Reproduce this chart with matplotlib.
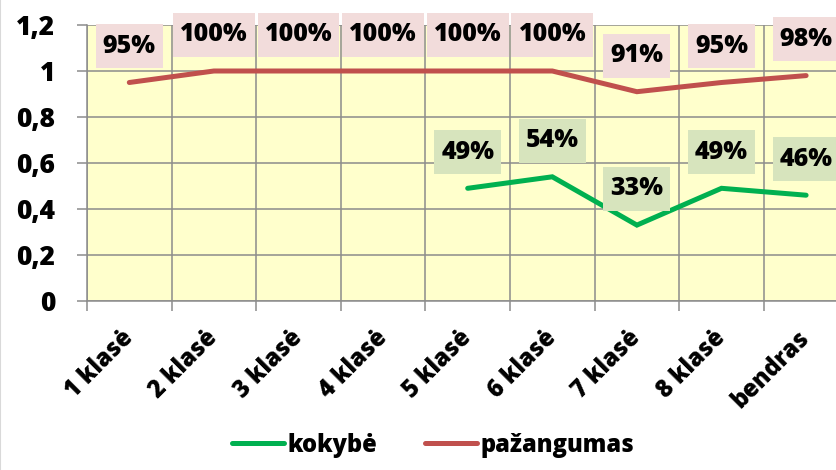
import numpy as np
import matplotlib
matplotlib.use("Agg")
import matplotlib.pyplot as plt
from matplotlib.lines import Line2D
from matplotlib.path import Path

categories = ["1 klasė", "2 klasė", "3 klasė", "4 klasė", "5 klasė",
              "6 klasė", "7 klasė", "8 klasė", "bendras"]
kokybe = [np.nan, np.nan, np.nan, np.nan, 0.49, 0.54, 0.33, 0.49, 0.46]
pazangumas = [0.95, 1.00, 1.00, 1.00, 1.00, 1.00, 0.91, 0.95, 0.98]
yticks = [0, 0.2, 0.4, 0.6, 0.8, 1.0, 1.2]
ytick_labels = ["0", "0,2", "0,4", "0,6", "0,8", "1", "1,2"]
series_names = ["kokybė", "pažangumas"]

GREEN = "#00B050"
RED = "#C0504D"
GREEN_BOX = "#D7E4BD"
RED_BOX = "#F2DCDB"
GRID = "#8C8C8C"
FONT = "Open Sans"
WEIGHT = 800

plt.rcParams['font.family'] = [FONT, 'DejaVu Sans']
plt.rcParams['font.weight'] = WEIGHT

W, H = 837, 470
fig = plt.figure(figsize=(W / 100, H / 100), dpi=100)
fig.patch.set_facecolor("white")

left, top, bottom = 87, 25, 301
cw = 84.6
ax = fig.add_axes([left / W, (H - bottom) / H, cw * 9 / W, (bottom - top) / H])
ax.set_facecolor("#FFFFCC")

x = np.arange(len(categories))
ax.plot(x, kokybe, color=GREEN, lw=3.6, solid_capstyle="round", solid_joinstyle="miter", zorder=3)
ax.plot(x, pazangumas, color=RED, lw=3.6, solid_capstyle="round", solid_joinstyle="miter", zorder=3)

ax.set_xlim(-0.5, len(categories) - 0.5)
ax.set_ylim(0, 1.2)


def label_box(x0, y0, width, height, mutation_size):
    # box around text: fixed padding in pixels, horizontally and vertically
    px, py = 7, 22
    cy = y0 + height / 2
    xa, xb = x0 - px, x0 + width + px
    ya, yb = cy - py, cy + py
    return Path([(xa, ya), (xb, ya), (xb, yb), (xa, yb), (xa, ya)], closed=True)


def add_labels(vals, box):
    for xi, v in zip(x, vals):
        if np.isnan(v):
            continue
        ax.annotate(f"{round(v * 100)}%", (xi, v), xytext=(0, 26), textcoords="offset points",
                    ha="center", va="center", fontsize=18, fontweight=WEIGHT, color="black",
                    bbox=dict(boxstyle=label_box, fc=box, ec="none"),
                    zorder=5, annotation_clip=False)


add_labels(pazangumas, RED_BOX)
add_labels(kokybe, GREEN_BOX)

# grid and ticks
ax.set_xticks(np.arange(-0.5, len(categories)), minor=False)
ax.set_xticklabels([])
ax.set_xticks(x, minor=True)
ax.set_xticklabels(categories, minor=True, rotation=45, ha="right", va="center",
                   rotation_mode="anchor", fontsize=17, fontweight=WEIGHT)
ax.tick_params(axis="x", which="minor", length=0, pad=24)
ax.tick_params(axis="x", which="major", length=7.2, width=1.1, color=GRID, direction="out")

ax.set_yticks(yticks)
ax.set_yticklabels(ytick_labels, fontsize=19, fontweight=WEIGHT)
ax.tick_params(axis="y", length=7.2, width=1.1, color=GRID, pad=15.8, direction="out")

ax.grid(True, which="major", color=GRID, lw=1.1, zorder=1)
ax.set_axisbelow(True)
for s in ["top", "right"]:
    ax.spines[s].set_visible(False)
for s in ["left", "bottom"]:
    ax.spines[s].set_color(GRID)
    ax.spines[s].set_linewidth(1.1)

handles = [Line2D([], [], color=GREEN, lw=3.6, solid_capstyle="round"),
           Line2D([], [], color=RED, lw=3.6, solid_capstyle="round")]
leg = fig.legend(handles, series_names, loc="center", bbox_to_anchor=(433 / W, (H - 445) / H),
                 ncol=2, frameon=False, prop=dict(family=FONT, weight=WEIGHT, size=17),
                 handlelength=2.2, handletextpad=0.15, columnspacing=2.0)

# outer border at left
fig.add_artist(Line2D([0.5 / W, 0.5 / W], [0, 1], color="#D9D9D9", lw=1.5, transform=fig.transFigure))

fig.savefig("out.png", dpi=100, facecolor="white")
